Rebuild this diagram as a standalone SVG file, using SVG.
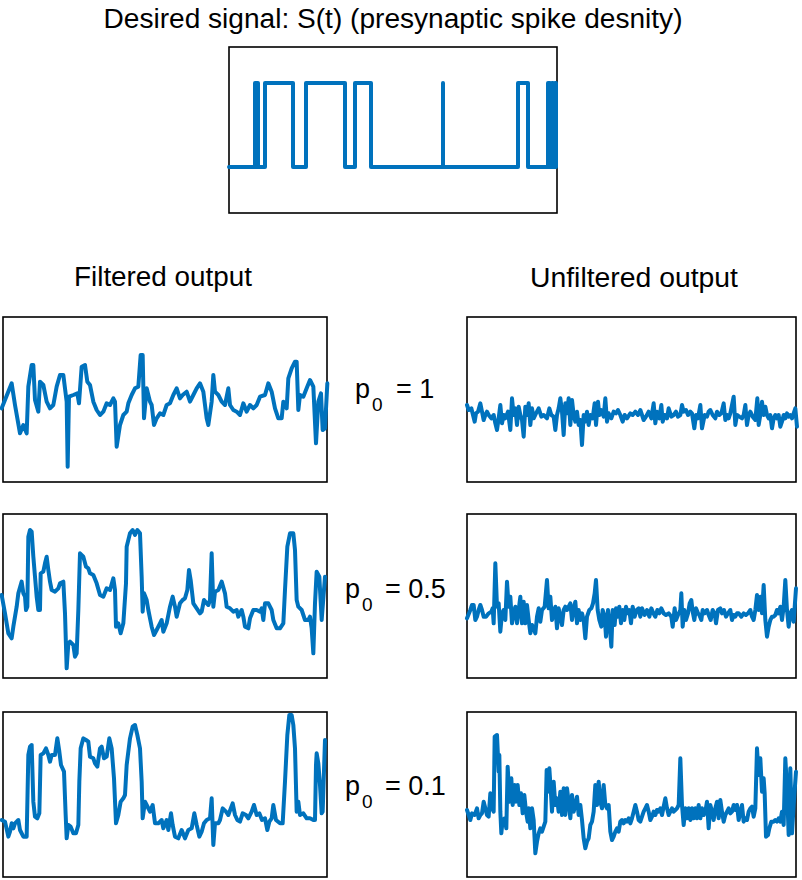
<svg xmlns="http://www.w3.org/2000/svg" width="802" height="880" viewBox="0 0 802 880">
<style>
  .frame{fill:#fff;stroke:#000;stroke-width:1.6}
  .sig{fill:none;stroke:#0072BD;stroke-width:4;stroke-linejoin:round;stroke-linecap:round;vector-effect:non-scaling-stroke}
  .t{font-family:"Liberation Sans",Arial,sans-serif;font-size:27px;fill:#000}
  .sub{font-size:19px}
</style>
<rect width="802" height="880" fill="#fff"/>

<g id="title">
  <text class="t" x="393" y="28" text-anchor="middle" textLength="579" lengthAdjust="spacingAndGlyphs">Desired signal: S(t) (presynaptic spike desnity)</text>
</g>

<g id="desired">
  <rect class="frame" x="229" y="47" width="328" height="166"/>
  <path class="sig" d="M229,167 H255 V83 H258 V167 H265 V83 H293 V167 H306 V83 H345 V167 H355 V83 H371 V167 H443 V83 V167 H518 V83 H528 V167 H548 V83 H550 V167 H552 V83 H553 V167 H555 V83 H556 V167"/>
</g>

<g id="headers">
  <text class="t" x="163" y="286" text-anchor="middle" textLength="178" lengthAdjust="spacingAndGlyphs">Filtered output</text>
  <text class="t" x="634" y="287" text-anchor="middle" textLength="208" lengthAdjust="spacingAndGlyphs">Unfiltered output</text>
</g>

<g id="filtered-p1">
  <rect class="frame" x="3" y="317" width="324" height="165"/>
  <polyline class="sig" transform="translate(0,315) scale(0.33333)" points="5,280 35,205 45,270 60,355 70,330 80,355 85,215 95,150 100,150 105,255 115,290 120,200 130,210 140,260 150,280 160,270 170,215 180,180 190,180 200,260 203,455 207,245 220,240 232,235 237,265 245,155 255,150 262,200 270,210 280,260 290,285 300,300 310,290 320,265 330,270 340,250 345,260 350,395 360,330 370,300 380,290 385,265 395,240 405,220 415,215 422,120 428,120 432,310 440,220 450,260 455,270 462,330 470,310 480,295 490,300 500,270 510,265 520,240 530,220 540,250 548,240 560,230 570,260 580,240 590,220 600,205 610,230 620,310 625,330 635,260 640,180 645,230 655,240 665,260 675,270 685,220 690,270 700,285 710,290 720,300 730,265 740,290 750,270 760,280 770,270 780,245 795,240 805,205 815,230 825,280 835,310 845,310 850,260 860,280 865,190 875,160 885,140 890,140 895,285 900,240 910,245 920,220 930,195 940,215 948,385 955,260 963,235 968,345 975,340 982,205"/>
</g>

<g id="filtered-p05">
  <rect class="frame" x="3" y="514" width="324" height="164"/>
  <polyline class="sig" transform="translate(0,510) scale(0.33333)" points="5,255 15,310 25,370 35,385 40,350 50,290 55,250 65,215 70,250 75,260 78,300 82,290 85,80 90,60 95,65 100,140 105,200 110,260 115,300 120,300 122,190 130,185 135,160 140,140 145,180 150,215 155,240 165,245 175,235 180,220 190,215 195,310 200,475 205,400 210,395 220,405 225,440 230,430 235,300 240,130 250,140 258,170 265,175 270,190 280,195 290,220 300,255 310,260 320,235 330,240 340,205 345,240 348,350 355,340 362,370 370,340 378,220 380,110 390,70 398,60 405,75 412,60 420,70 425,200 428,305 432,250 440,270 445,300 455,350 462,375 470,360 480,340 485,330 490,365 500,340 510,290 518,260 525,290 530,320 540,280 548,270 555,265 562,240 567,180 572,210 580,280 590,295 600,310 605,305 612,270 620,280 625,285 630,270 635,130 640,290 645,245 655,240 665,215 675,250 680,290 690,295 700,305 710,300 715,320 725,300 730,320 735,350 745,355 750,325 760,300 770,300 780,305 785,295 790,330 795,280 805,280 815,300 820,330 830,355 840,355 850,340 855,240 862,110 870,70 880,70 885,120 890,270 895,290 905,300 915,330 925,330 930,320 935,355 940,430 945,280 950,185 958,200 965,330 975,200"/>
</g>

<g id="filtered-p01">
  <rect class="frame" x="3" y="712" width="324" height="165"/>
  <polyline class="sig" transform="translate(0,705) scale(0.33333)" points="5,345 15,350 25,395 30,380 35,355 40,370 45,355 55,345 60,375 70,395 80,395 85,150 90,125 95,120 100,290 105,335 112,340 118,325 122,150 130,145 138,130 145,150 150,170 155,150 165,150 172,100 178,140 183,180 192,200 197,330 200,400 205,360 212,365 220,385 228,385 235,360 238,230 242,130 250,100 258,105 265,110 270,155 280,160 285,175 292,185 300,130 305,125 312,160 320,155 328,100 335,130 342,220 348,355 355,330 362,290 370,280 375,270 380,180 390,100 398,65 405,60 412,90 420,130 425,230 428,340 435,290 440,300 450,320 458,300 465,355 475,355 485,345 490,370 500,345 505,375 513,325 518,360 525,395 535,400 545,375 555,400 565,375 575,370 583,325 590,360 598,395 605,380 612,355 620,345 630,340 635,280 640,420 645,355 655,355 660,345 668,310 678,320 685,330 698,295 705,330 712,345 720,350 728,325 738,330 745,340 755,320 762,300 770,330 778,325 786,345 795,340 802,375 808,350 815,340 820,300 828,345 840,355 848,355 855,230 862,90 868,30 875,30 880,60 885,130 890,320 895,290 900,330 910,325 920,340 930,340 940,345 945,345 948,180 950,145 955,175 960,240 965,325 968,320 975,105"/>
</g>

<g id="unfiltered-p1">
  <rect class="frame" x="467" y="317" width="329" height="165"/>
  <polyline class="sig" transform="translate(462,315) scale(0.33333)" points="15,270 20,285 28,280 33,300 38,320 42,295 48,290 55,265 60,290 65,315 70,300 75,290 80,300 88,310 95,300 100,325 105,345 110,310 115,270 120,325 125,300 130,310 138,290 145,345 150,250 155,300 160,280 165,330 170,275 175,300 180,315 185,365 190,275 195,300 200,265 205,330 210,280 215,310 222,295 230,280 238,305 245,300 255,310 262,280 268,300 275,305 280,345 285,300 290,280 295,250 300,290 305,360 310,265 315,295 320,250 325,330 330,255 335,300 340,320 345,290 350,330 355,315 360,390 365,300 370,320 375,290 380,330 385,300 392,310 398,265 402,330 408,260 412,300 418,285 425,305 430,250 435,320 440,295 448,310 455,290 462,295 468,285 475,300 482,320 488,300 495,310 505,295 512,300 520,290 528,300 535,285 545,315 552,305 560,290 568,310 575,265 580,325 585,290 592,310 598,270 602,320 608,300 615,310 620,280 628,305 635,300 642,290 648,305 655,300 660,270 665,290 672,285 678,300 685,290 690,295 697,340 702,300 708,310 715,270 720,340 728,300 735,305 740,290 745,285 752,300 760,310 765,290 772,300 778,295 785,265 790,315 795,300 800,310 805,295 815,245 820,330 825,300 832,305 840,310 845,300 850,270 855,330 860,300 865,290 872,305 880,315 886,250 890,330 895,300 900,260 905,300 910,275 915,300 920,310 925,300 930,340 935,310 940,300 945,310 950,300 955,335 960,320 965,300 970,310 975,295 980,305 985,300 990,310 1000,280 1005,335"/>
</g>

<g id="unfiltered-p05">
  <rect class="frame" x="467" y="514" width="329" height="164"/>
  <polyline class="sig" transform="translate(462,510) scale(0.33333)" points="15,325 25,300 30,285 35,285 40,330 45,320 50,300 55,285 60,300 65,320 72,320 80,310 88,305 92,295 95,340 100,160 105,290 110,280 115,365 120,310 125,300 130,330 135,215 140,290 145,260 150,340 155,310 160,290 165,340 170,300 175,260 180,340 185,275 190,340 195,285 200,330 205,370 210,345 215,355 220,370 225,320 230,295 235,335 240,300 248,290 255,210 260,295 265,260 270,330 275,310 280,290 285,355 290,295 295,320 300,345 305,300 310,290 315,300 320,290 325,280 330,330 335,295 340,275 345,340 350,300 355,330 360,310 365,330 370,385 375,320 382,300 388,295 393,280 398,250 402,210 407,300 412,330 418,350 422,300 428,320 432,380 438,300 443,345 448,410 452,300 458,345 462,295 467,320 472,290 477,340 482,300 487,330 492,290 497,310 502,300 507,340 512,290 518,320 524,300 530,295 535,320 540,295 548,315 555,300 562,320 568,295 574,310 580,320 586,300 592,310 598,295 605,310 612,315 620,310 628,320 632,350 638,295 642,330 648,315 655,300 658,250 662,350 667,300 672,330 678,310 683,280 688,270 692,305 697,330 702,295 708,310 712,315 718,330 722,300 728,310 735,300 740,315 746,330 752,300 758,310 762,340 768,300 775,295 780,310 786,300 792,320 798,310 805,300 810,330 815,315 820,320 825,310 830,310 838,320 845,310 852,315 858,310 865,300 870,320 875,330 880,300 885,255 890,300 895,260 900,310 905,225 910,330 915,380 920,350 925,330 930,320 935,320 940,315 945,300 950,310 955,290 960,330 965,290 970,210 975,300 980,350 985,310 990,300 995,335 1002,235"/>
</g>

<g id="unfiltered-p01">
  <rect class="frame" x="467" y="712" width="329" height="165"/>
  <polyline class="sig" transform="translate(462,705) scale(0.33333)" points="15,315 20,330 25,345 30,325 38,330 45,310 50,340 55,330 60,325 65,290 70,310 75,330 80,335 85,265 90,310 95,320 98,95 105,90 110,200 112,150 115,320 118,385 122,345 128,340 133,370 137,185 143,290 148,220 152,300 158,240 162,290 167,240 172,300 177,265 182,325 187,270 192,320 197,350 200,310 205,370 210,310 215,345 220,445 225,410 230,385 235,370 240,380 245,365 250,350 254,195 258,260 262,190 266,250 270,320 275,230 280,300 285,280 290,320 295,260 300,330 305,250 310,330 315,250 320,290 325,340 330,270 335,320 340,300 345,275 350,330 355,300 360,345 365,400 370,430 375,410 380,400 385,360 390,350 395,320 400,240 405,300 410,230 415,290 420,310 425,240 430,300 435,310 440,300 445,380 450,405 455,395 460,380 465,370 470,380 475,350 480,345 485,355 490,345 495,350 500,340 505,355 510,340 515,320 520,300 525,320 530,345 535,350 540,335 545,320 550,310 555,300 560,320 565,345 570,335 575,320 580,330 585,315 590,320 595,310 600,330 605,305 610,280 615,310 620,330 625,320 630,310 635,320 640,315 645,310 650,300 655,160 660,300 665,360 670,310 675,340 680,310 685,345 690,310 695,340 700,310 705,340 710,300 715,340 720,310 725,330 730,320 735,290 740,370 745,300 750,320 755,345 760,310 765,290 770,340 775,285 780,320 785,350 790,330 795,320 800,310 805,325 810,320 815,300 820,315 825,300 830,345 835,320 840,300 845,350 850,340 855,345 860,320 865,310 870,305 875,335 880,310 885,130 890,210 895,160 900,260 905,220 908,265 912,395 918,390 922,370 928,350 935,350 940,345 945,350 950,340 955,350 960,320 965,360 970,160 975,250 980,390 985,190 990,385 995,300 1002,200"/>
</g>

<g id="labels">
  <text class="t" y="398"><tspan x="355">p</tspan><tspan class="sub" x="372" y="411">0</tspan><tspan x="396" y="398">= 1</tspan></text>
  <text class="t" y="598"><tspan x="345">p</tspan><tspan class="sub" x="362" y="611">0</tspan><tspan x="385" y="598">= 0.5</tspan></text>
  <text class="t" y="795"><tspan x="345">p</tspan><tspan class="sub" x="362" y="808">0</tspan><tspan x="385" y="795">= 0.1</tspan></text>
</g>
</svg>
